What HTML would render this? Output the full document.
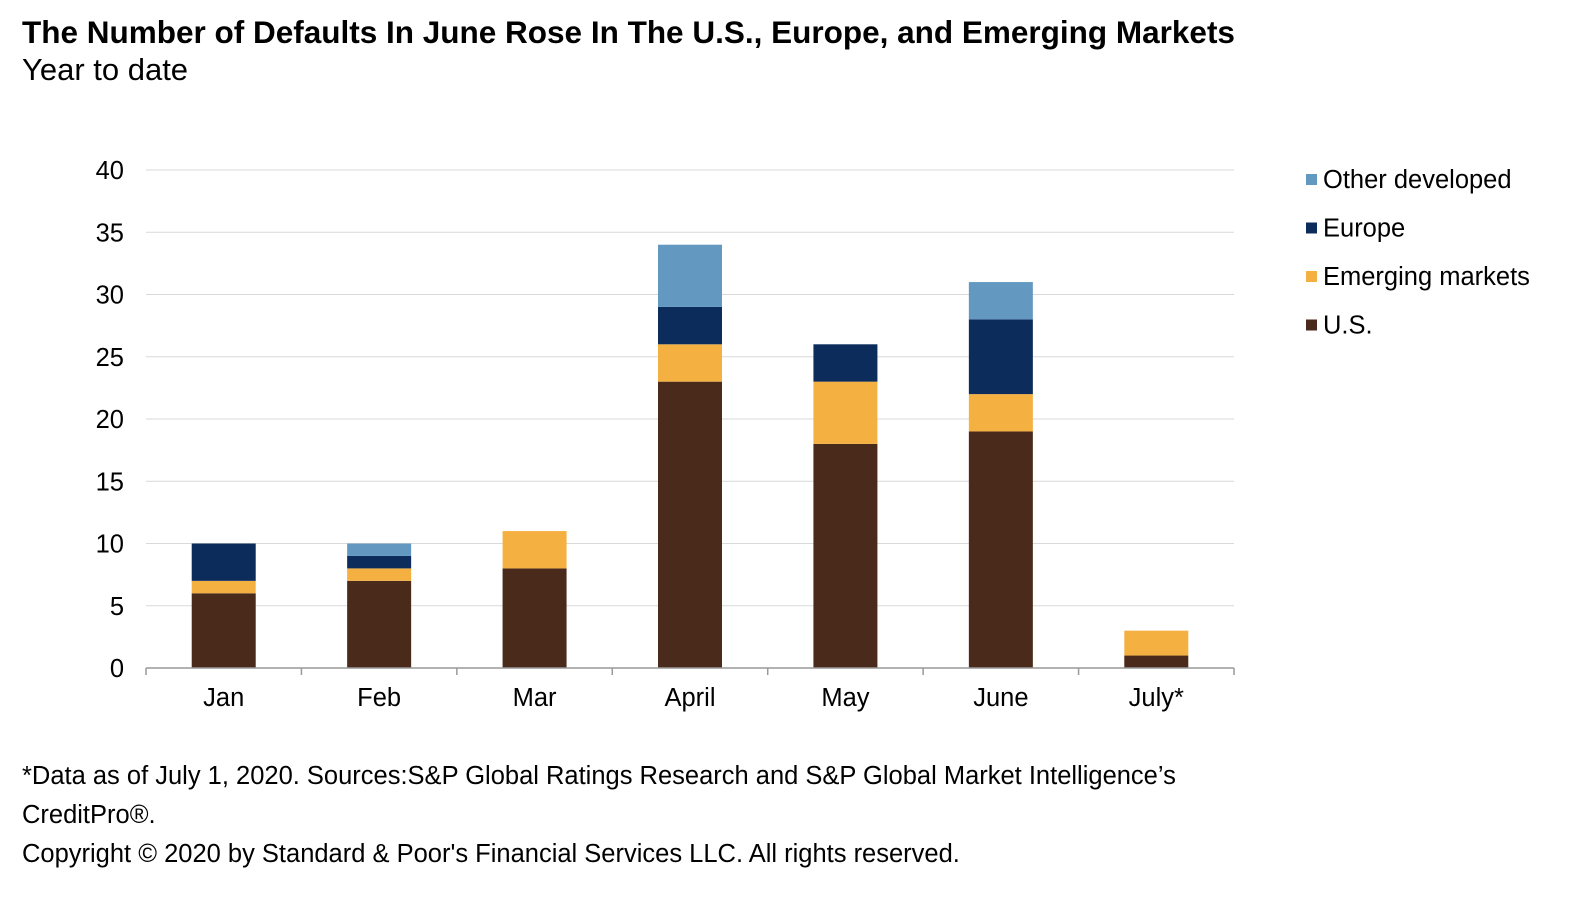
<!DOCTYPE html>
<html><head><meta charset="utf-8"><style>
body{margin:0;background:#fff;font-family:"Liberation Sans",Arial,sans-serif;}
svg text{font-family:"Liberation Sans",Arial,sans-serif;fill:#000;}
</style></head><body>
<svg width="1578" height="914" viewBox="0 0 1578 914">
<text x="22" y="43" font-size="31.5" font-weight="bold">The Number of Defaults In June Rose In The U.S., Europe, and Emerging Markets</text>
<text x="22" y="80" font-size="31">Year to date</text>
<g id="grid"></g><g id="bars"></g><g id="axes"></g><g id="legend"></g>
<text x="22" y="784" font-size="25.5">*Data as of July 1, 2020. Sources:S&amp;P Global Ratings Research and S&amp;P Global Market Intelligence’s</text>
<text x="22" y="823" font-size="25.5">CreditPro®.</text>
<text x="22" y="862" font-size="25.5">Copyright © 2020 by Standard &amp; Poor's Financial Services LLC. All rights reserved.</text>
</svg>
<script>
const categories=["Jan","Feb","Mar","April","May","June","July*"];
const us=[6,7,8,23,18,19,1];
const emerging=[1,1,3,3,5,3,2];
const europe=[3,1,0,3,3,6,0];
const other=[0,1,0,5,0,3,0];
const yTicks=[0,5,10,15,20,25,30,35,40];
const seriesNames=["U.S.","Emerging markets","Europe","Other developed"];
const colors=["#4a2a1a","#f4b142","#0c2c5c","#6399c0"];
const NS="http://www.w3.org/2000/svg";
const x0=146,x1=1234,y0=668,yTop=170,yMax=40;
const band=(x1-x0)/categories.length;
const y=v=>y0-(v/yMax)*(y0-yTop);
const xc=i=>x0+band*(i+0.5);
function mk(tag,attrs,parent){const e=document.createElementNS(NS,tag);for(const k in attrs)e.setAttribute(k,attrs[k]);parent.appendChild(e);return e;}
const grid=document.getElementById('grid'),bars=document.getElementById('bars'),axes=document.getElementById('axes'),legend=document.getElementById('legend');
yTicks.forEach(t=>{
 if(t>0){const l=mk('line',{x1:x0,x2:x1,y1:y(t),y2:y(t),stroke:'#d9d9d9','stroke-width':1},grid);
 
 }
 const tx=mk('text',{x:124,y:y(t)+9,'font-size':25.5,'text-anchor':'end'},axes);tx.textContent=t;
 
 
});
const series=[us,emerging,europe,other];
categories.forEach((c,i)=>{
 let base=0;
 series.forEach((s,k)=>{
  const v=s[i];if(v<=0)return;
  const r=mk('rect',{x:xc(i)-32,width:64,y:y(base+v),height:y(base)-y(base+v),fill:colors[k]},bars);
  
  
  base+=v;
 });
 const tx=mk('text',{x:xc(i),y:706,'font-size':25.5,'text-anchor':'middle'},axes);tx.textContent=c;
 
 
});
const ax=mk('line',{x1:x0,x2:x1,y1:y0,y2:y0,stroke:'#999','stroke-width':1.5},axes);


for(let i=0;i<=categories.length;i++){const t=mk('line',{x1:x0+band*i,x2:x0+band*i,y1:y0,y2:y0+7,stroke:'#999','stroke-width':1.5},axes);
 
 }
[3,2,1,0].forEach((k,j)=>{
 const yy=179+j*48.5;
 const g=mk('g',{},legend);
 
 
 mk('rect',{x:1306,y:yy-5,width:11,height:11,fill:colors[k]},g);
 const tx=mk('text',{x:1323,y:yy+9,'font-size':25.5},g);tx.textContent=seriesNames[k];
});
</script>
</body></html>
